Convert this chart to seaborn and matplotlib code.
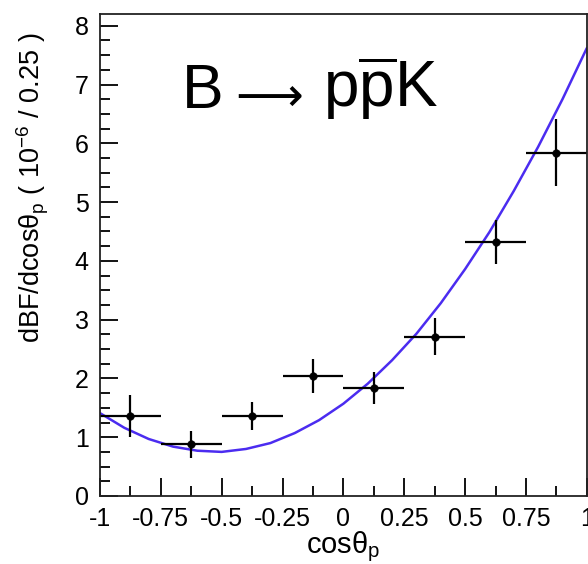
import matplotlib
matplotlib.use("Agg")
import matplotlib.pyplot as plt
import matplotlib.ticker as mticker
import pandas as pd
import seaborn as sns

# measured points (bin centres, value, error)
bin_centers = [-0.875, -0.625, -0.375, -0.125, 0.125, 0.375, 0.625, 0.875]
dbf_values = [1.36, 0.88, 1.36, 2.04, 1.84, 2.71, 4.32, 5.84]
dbf_errors = [0.36, 0.23, 0.24, 0.29, 0.27, 0.31, 0.37, 0.57]
bin_half_width = 0.125

# fit curve
fit_x = [-1.0, -0.9, -0.8, -0.7, -0.6, -0.5, -0.4, -0.3, -0.2, -0.1, 0.0,
         0.1, 0.2, 0.3, 0.4, 0.5, 0.6, 0.7, 0.8, 0.9, 1.0]
fit_y = [1.41, 1.16, 0.97, 0.84, 0.77, 0.75, 0.80, 0.90, 1.07, 1.29, 1.57,
         1.91, 2.31, 2.76, 3.28, 3.86, 4.49, 5.19, 5.94, 6.75, 7.62]

x_ticks = [-1, -0.75, -0.5, -0.25, 0, 0.25, 0.5, 0.75, 1]
x_ticklabels = ["-1", "-0.75", "-0.5", "-0.25", "0", "0.25", "0.5", "0.75", "1"]

sns.set_theme(style="ticks")
plt.rcParams["font.family"] = ["Liberation Sans", "DejaVu Sans"]
plt.rcParams["mathtext.fontset"] = "custom"
plt.rcParams["mathtext.rm"] = "Liberation Sans"
plt.rcParams["mathtext.it"] = "Liberation Sans:italic"
plt.rcParams["mathtext.sf"] = "Liberation Sans"
plt.rcParams["axes.unicode_minus"] = False
plt.rcParams["text.color"] = "black"
plt.rcParams["axes.labelcolor"] = "black"
plt.rcParams["xtick.color"] = "black"
plt.rcParams["ytick.color"] = "black"

points = pd.DataFrame({"x": bin_centers, "y": dbf_values, "err": dbf_errors})
curve = pd.DataFrame({"x": fit_x, "y": fit_y})

fig = plt.figure(figsize=(5.88, 5.64), dpi=100)
ax = fig.add_axes([0.170, 0.1206, 0.828, 0.8546])

sns.lineplot(data=curve, x="x", y="y", ax=ax, color="#4b2cf0", linewidth=1.8)
ax.errorbar(points["x"], points["y"], xerr=bin_half_width, yerr=points["err"],
            fmt="none", ecolor="black", elinewidth=1.6, capsize=0)
sns.scatterplot(data=points, x="x", y="y", ax=ax, color="black", s=30,
                edgecolor="black", zorder=5)

ax.set_xlim(-1, 1)
ax.set_ylim(0, 8.2)
ax.set_xticks(x_ticks)
ax.set_xticklabels(x_ticklabels)
ax.xaxis.set_minor_locator(mticker.MultipleLocator(0.125))
ax.yaxis.set_major_locator(mticker.MultipleLocator(1))
ax.yaxis.set_minor_locator(mticker.MultipleLocator(0.25))
ax.tick_params(which="major", direction="in", length=13, width=1.3,
               labelsize=18, top=False, right=False, pad=8)
ax.tick_params(which="minor", direction="in", length=7, width=1.3,
               top=False, right=False)
for s in ax.spines.values():
    s.set_linewidth(1.3)
    s.set_color("#222222")

ax.set_xlabel("cosθ$_\\mathrm{p}$", fontsize=21, labelpad=-1)
ax.set_ylabel("dBF/dcosθ$_\\mathrm{p}$ ( 10$^{-6}$ / 0.25 )", fontsize=19.5)
ax.yaxis.set_label_coords(-0.10, 0.64)

# decay label: B -> p pbar K
ax.text(-0.665, 6.6, "B", fontsize=45, ha="left", va="baseline")
ax.text(-0.445, 6.55, "⟶", fontsize=34, ha="left", va="baseline",
        family="DejaVu Sans")
ax.text(-0.085, 6.6, "p$\\overline{\\mathrm{p}}$K", fontsize=46,
        ha="left", va="baseline")

fig.savefig("out.png", dpi=100)
